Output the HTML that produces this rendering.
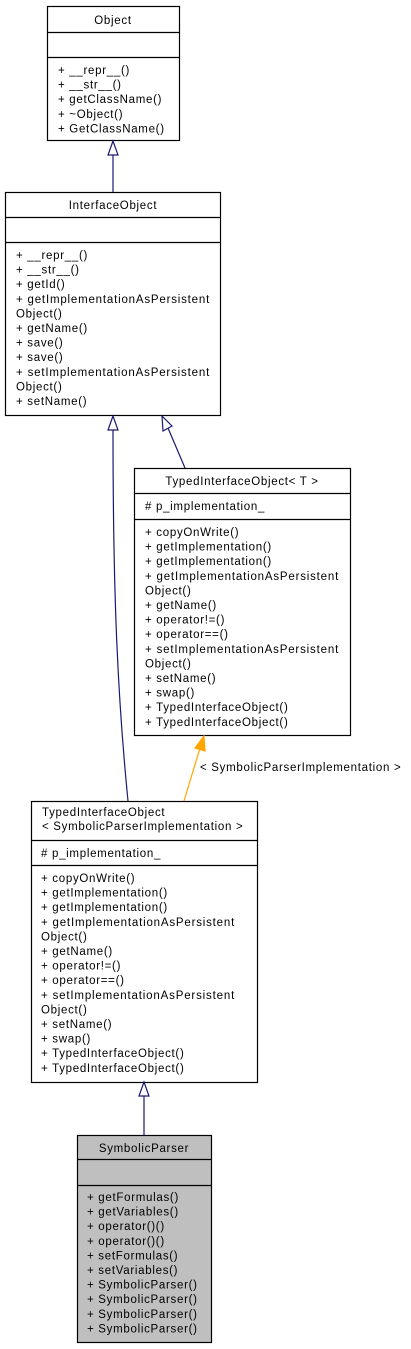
<!DOCTYPE html>
<html><head><meta charset="utf-8"><style>
html,body{margin:0;padding:0;background:#fff;}
svg{display:block;}
text{font-family:"Liberation Sans",Helvetica,sans-serif;font-size:11.5px;letter-spacing:0.7px;fill:#000;}
</style></head><body>
<svg width="411" height="1349" viewBox="0 0 411 1349" xmlns="http://www.w3.org/2000/svg">
<g stroke="#000" stroke-width="1.2" fill="#fff">
<rect x="47.5" y="6.5" width="132" height="134"/>
<line x1="47.5" y1="32.5" x2="179.5" y2="32.5"/>
<line x1="47.5" y1="57.5" x2="179.5" y2="57.5"/>
<rect x="5.5" y="192.5" width="215" height="223"/>
<line x1="5.5" y1="217.5" x2="220.5" y2="217.5"/>
<line x1="5.5" y1="242.5" x2="220.5" y2="242.5"/>
<rect x="134.5" y="468.5" width="216" height="267"/>
<line x1="134.5" y1="493.5" x2="350.5" y2="493.5"/>
<line x1="134.5" y1="519.5" x2="350.5" y2="519.5"/>
<rect x="31.5" y="801.5" width="226" height="281"/>
<line x1="31.5" y1="840.5" x2="257.5" y2="840.5"/>
<line x1="31.5" y1="865.5" x2="257.5" y2="865.5"/>
<rect x="77.5" y="1135.5" width="134" height="207" fill="#bfbfbf"/>
<line x1="77.5" y1="1159.5" x2="211.5" y2="1159.5"/>
<line x1="77.5" y1="1185.5" x2="211.5" y2="1185.5"/>
</g>
<g fill="none" stroke="#191970" stroke-width="1.2">
<line x1="113" y1="155" x2="113" y2="192"/>
<polygon points="113,141 108,155 118,155" fill="#fff"/>
<path d="M113,429 C113,600 118,700 128,801"/>
<polygon points="113,416 108,430 118,430" fill="#fff"/>
<line x1="168" y1="428" x2="185" y2="468"/>
<polygon points="162,416 163,431 172,426" fill="#fff"/>
<line x1="144" y1="1096" x2="144" y2="1135"/>
<polygon points="144,1082 139,1096 149,1096" fill="#fff"/>
</g>
<g stroke="#ffa500" stroke-width="1.2" fill="#ffa500">
<line x1="200" y1="748" x2="184" y2="801"/>
<polygon points="204,736 195,748 205,751"/>
</g>
<text x="113" y="24" text-anchor="middle">Object</text>
<text x="58" y="74">+ __repr__()</text>
<text x="58" y="88.6">+ __str__()</text>
<text x="58" y="103.2">+ getClassName()</text>
<text x="58" y="117.8">+ ~Object()</text>
<text x="58" y="132.4">+ GetClassName()</text>

<text x="113" y="209" text-anchor="middle">InterfaceObject</text>
<text x="16" y="259">+ __repr__()</text>
<text x="16" y="273.6">+ __str__()</text>
<text x="16" y="288.2">+ getId()</text>
<text x="16" y="302.8" textLength="194" lengthAdjust="spacing">+ getImplementationAsPersistent</text>
<text x="16" y="317.4">Object()</text>
<text x="16" y="332">+ getName()</text>
<text x="16" y="346.6">+ save()</text>
<text x="16" y="361.2">+ save()</text>
<text x="16" y="375.8" textLength="194" lengthAdjust="spacing">+ setImplementationAsPersistent</text>
<text x="16" y="390.4">Object()</text>
<text x="16" y="405">+ setName()</text>

<text x="242" y="485" text-anchor="middle">TypedInterfaceObject&lt; T &gt;</text>
<text x="145" y="510"># p_implementation_</text>
<text x="145" y="536">+ copyOnWrite()</text>
<text x="145" y="550.6">+ getImplementation()</text>
<text x="145" y="565.2">+ getImplementation()</text>
<text x="145" y="579.8" textLength="194" lengthAdjust="spacing">+ getImplementationAsPersistent</text>
<text x="145" y="594.4">Object()</text>
<text x="145" y="609">+ getName()</text>
<text x="145" y="623.6">+ operator!=()</text>
<text x="145" y="638.2">+ operator==()</text>
<text x="145" y="652.8" textLength="194" lengthAdjust="spacing">+ setImplementationAsPersistent</text>
<text x="145" y="667.4">Object()</text>
<text x="145" y="682">+ setName()</text>
<text x="145" y="696.6">+ swap()</text>
<text x="145" y="711.2">+ TypedInterfaceObject()</text>
<text x="145" y="725.8">+ TypedInterfaceObject()</text>

<text x="200" y="771">&lt; SymbolicParserImplementation &gt;</text>

<text x="42" y="816">TypedInterfaceObject</text>
<text x="42" y="830">&lt; SymbolicParserImplementation &gt;</text>
<text x="41" y="857"># p_implementation_</text>
<text x="41" y="882">+ copyOnWrite()</text>
<text x="41" y="896.6">+ getImplementation()</text>
<text x="41" y="911.2">+ getImplementation()</text>
<text x="41" y="925.8" textLength="194" lengthAdjust="spacing">+ getImplementationAsPersistent</text>
<text x="41" y="940.4">Object()</text>
<text x="41" y="955">+ getName()</text>
<text x="41" y="969.6">+ operator!=()</text>
<text x="41" y="984.2">+ operator==()</text>
<text x="41" y="998.8" textLength="194" lengthAdjust="spacing">+ setImplementationAsPersistent</text>
<text x="41" y="1013.4">Object()</text>
<text x="41" y="1028">+ setName()</text>
<text x="41" y="1042.6">+ swap()</text>
<text x="41" y="1057.2">+ TypedInterfaceObject()</text>
<text x="41" y="1071.8">+ TypedInterfaceObject()</text>

<text x="144" y="1152" text-anchor="middle">SymbolicParser</text>
<text x="87" y="1201">+ getFormulas()</text>
<text x="87" y="1215.6">+ getVariables()</text>
<text x="87" y="1230.2">+ operator()()</text>
<text x="87" y="1244.8">+ operator()()</text>
<text x="87" y="1259.4">+ setFormulas()</text>
<text x="87" y="1274">+ setVariables()</text>
<text x="87" y="1288.6">+ SymbolicParser()</text>
<text x="87" y="1303.2">+ SymbolicParser()</text>
<text x="87" y="1317.8">+ SymbolicParser()</text>
<text x="87" y="1332.4">+ SymbolicParser()</text>
</svg>
</body></html>
